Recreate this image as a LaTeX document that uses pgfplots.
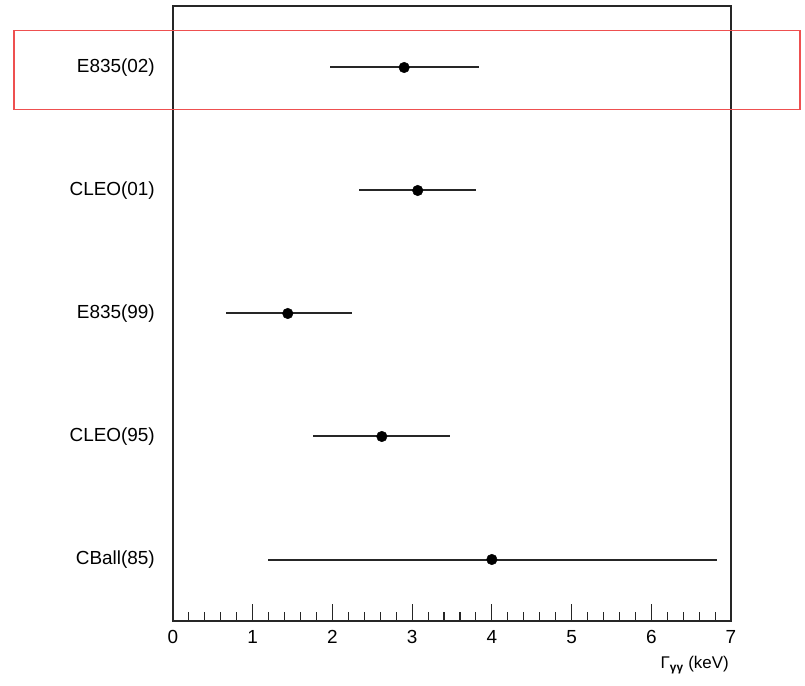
\documentclass[border=0pt]{standalone}
\usepackage{fontspec}
\setmainfont{Liberation Sans}
\usepackage{pgfplots}
\usepackage{pgfplotstable}
\pgfplotsset{compat=1.18}
\definecolor{boxred}{RGB}{238,80,80}
\pgfplotstableread{
y x em ep
1 4.00 2.81 2.83
2 2.62 0.86 0.86
3 1.44 0.78 0.81
4 3.07 0.74 0.73
5 2.90 0.93 0.94
}\datatable
\begin{document}
\begin{tikzpicture}
\begin{axis}[
  scale only axis,
  width=558bp, height=615bp,
  xmin=0, xmax=7, ymin=0.5, ymax=5.5,
  clip=false,
  axis line style={line width=1.2bp, black!85},
  xtick={0,1,...,7},
  minor x tick num=4,
  xtick pos=bottom,
  xtick align=inside,
  major tick length=17bp,
  minor tick length=9bp,
  every tick/.style={line width=1.1bp, black!85},
  ytick={1,2,3,4,5},
  yticklabels={CBall(85),CLEO(95),E835(99),CLEO(01),E835(02)},
  ytick style={draw=none},
  y tick label style={font=\fontsize{19}{20}\selectfont, anchor=east, inner sep=0pt, xshift=-18bp},
  x tick label style={font=\fontsize{19}{20}\selectfont, inner sep=0pt, yshift=-9bp},
  /pgf/number format/assume math mode=true,
  xlabel={Γ\textsubscript{\textbf{γγ}} (keV)},
  xlabel style={font=\fontsize{17}{20}\selectfont, at={(axis description cs:1,0)}, anchor=north east, inner sep=0pt, yshift=-35bp, xshift=-2bp},
]
\addplot[only marks, mark=*, mark size=5.3bp, black,
  error bars/.cd, x dir=both, x explicit, error mark=none,
  error bar style={line width=2bp, black!85}]
  table[x=x, y=y, x error minus=em, x error plus=ep] {\datatable};
\draw[boxred, line width=1.4bp] (axis cs:-1.995,5.30) rectangle (axis cs:7.867,4.66);
\end{axis}
\pgfresetboundingbox
\path[use as bounding box] (-173bp,-65bp) rectangle (632bp,621bp);
\end{tikzpicture}
\end{document}
